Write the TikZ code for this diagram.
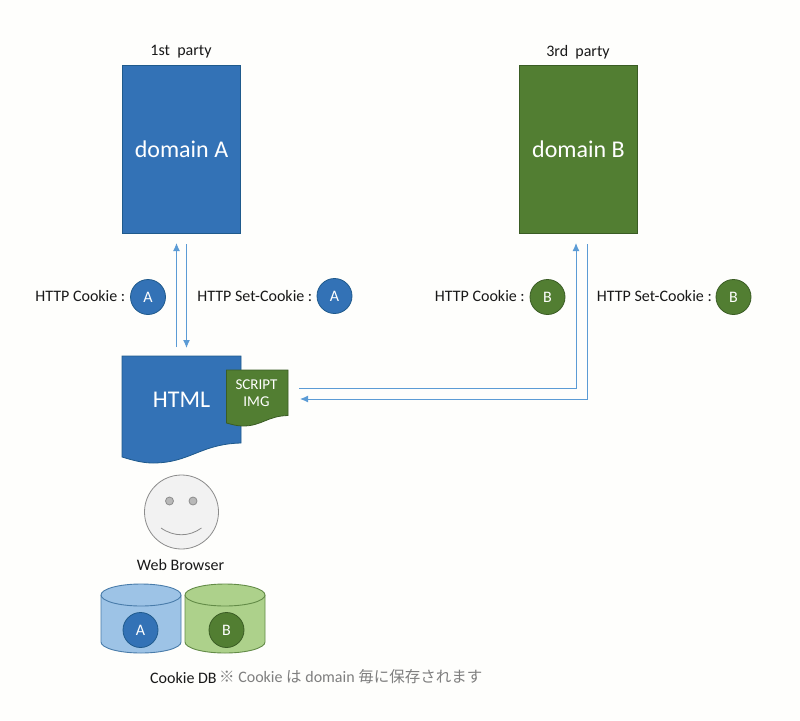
\documentclass[tikz,border=0pt]{standalone}
\usepackage{fontspec}
\setmainfont{Carlito}
\newfontfamily\cjk{Noto Sans CJK JP}
\usetikzlibrary{arrows.meta}
\definecolor{blueF}{HTML}{3372B6}
\definecolor{blueD}{HTML}{1F5A8C}
\definecolor{greenF}{HTML}{527E32}
\definecolor{greenD}{HTML}{3A5C24}
\definecolor{arrowC}{HTML}{5B9BD5}
\definecolor{lblue}{HTML}{9DC3E6}
\definecolor{lgreen}{HTML}{ADD18B}
\definecolor{note}{HTML}{7F7F7F}
\definecolor{paper}{HTML}{FEFEFC}
\tikzset{
  x=1pt,y=-1pt,
  box/.style={draw,line width=0.8pt,minimum width=118pt,minimum height=168pt,inner sep=0pt,text=white,font=\fontsize{24}{26}\selectfont},
  bluebox/.style={box,fill=blueF,draw=blueD},
  greenbox/.style={box,fill=greenF,draw=greenD},
  badge/.style={circle,draw,line width=0.8pt,minimum size=35pt,inner sep=0pt,text=white,font=\fontsize{16}{18}\selectfont},
  badgeA/.style={badge,fill=blueF,draw=blueD},
  badgeB/.style={badge,fill=greenF,draw=greenD},
  lbl/.style={inner sep=0pt,text=black!90,font=\fontsize{16}{18}\selectfont},
  conn/.style={draw=arrowC,line width=1pt,-{Latex[length=8pt,width=7pt]}},
  facepart/.style={draw=black!45,line width=0.8pt},
}
\begin{document}
\begin{tikzpicture}
\useasboundingbox (0,0) rectangle (800,720);
\fill[fill=paper] (0,0) rectangle (800,720);

\node[bluebox] (domA) at (181.5,149.5) {domain A};
\node[greenbox] (domB) at (578.5,149.5) {domain B};
\node[lbl] (p1) at (181,52) {1st\ \ party};
\node[lbl] (p3) at (578,52) {3rd\ \ party};

% HTML document
\draw[fill=blueF,draw=blueD,line width=0.8pt] (122,356) -- (241,356) -- (241,443)
  .. controls (200,444) and (190,463) .. (153,463)
  .. controls (142,463) and (132,460) .. (122,457) -- cycle;
\node[inner sep=0pt,text=white,font=\fontsize{24}{26}\selectfont] (html) at (181.5,400) {HTML};

% script document
\draw[fill=greenF,draw=greenD,line width=0.8pt] (226.5,370) -- (288,370) -- (288,415.5)
  .. controls (267,416) and (262,426) .. (243,426)
  .. controls (237,426) and (232,424.5) .. (226.5,423) -- cycle;
\node[inner sep=0pt,align=center,text=white,font=\fontsize{15}{17}\selectfont] (script) at (256.5,393) {SCRIPT\\IMG};

% connector end points
\coordinate (upS) at (176.5,347);
\coordinate (upE) at (176.5,243);
\coordinate (dnS) at (186.5,244);
\coordinate (dnE) at (186.5,348);
\coordinate (outS) at (299,388);
\coordinate (outC) at (576,388);
\coordinate (outE) at (576,243);
\coordinate (inS) at (587,244);
\coordinate (inC) at (587,399);
\coordinate (inE) at (300,399);
\draw[conn] (upS) -- (upE);
\draw[conn] (dnS) -- (dnE);
\draw[conn] (outS) -- (outC) -- (outE);
\draw[conn] (inS) -- (inC) -- (inE);

% labels
\node[lbl,anchor=east] (l1) at (125.5,296) {HTTP Cookie :};
\node[badgeA] (b1) at (148,297) {A};
\node[lbl,anchor=east] (l2) at (312.5,296) {HTTP Set-Cookie :};
\node[badgeA] (b2) at (334.5,296) {A};
\node[lbl,anchor=east] (l3) at (525,296) {HTTP Cookie :};
\node[badgeB] (b3) at (547.5,297) {B};
\node[lbl,anchor=east] (l4) at (712,296) {HTTP Set-Cookie :};
\node[badgeB] (b4) at (733.5,297) {B};

% face
\node[circle,facepart,fill=black!5,minimum size=74pt,inner sep=0pt] (face) at (181.5,512) {};
\node[circle,facepart,fill=black!28,minimum size=8pt,inner sep=0pt] (eyeL) at (169.5,501) {};
\node[circle,facepart,fill=black!28,minimum size=8pt,inner sep=0pt] (eyeR) at (193,501) {};
\draw[facepart] (161,528) .. controls (174,537) and (189,537) .. (201.5,528);
\node[lbl] (wb) at (180.5,565) {Web Browser};

% cylinders
\draw[fill=lblue,draw=arrowC!80!black,line width=0.9pt] (101,595) -- (101,642) arc[start angle=180,end angle=360,x radius=40,y radius=-11] -- (181,595);
\draw[fill=lblue,draw=arrowC!80!black,line width=0.9pt] (141,595) ellipse[x radius=40,y radius=11];
\draw[fill=lgreen,draw=greenF!90!white,line width=0.9pt] (185,595) -- (185,642) arc[start angle=180,end angle=360,x radius=40,y radius=-11] -- (265,595);
\draw[fill=lgreen,draw=greenF!90!white,line width=0.9pt] (225,595) ellipse[x radius=40,y radius=11];
\node[badgeA] (ca) at (140.5,630) {A};
\node[badgeB] (cb) at (226.5,630) {B};

\node[lbl,anchor=west] (db) at (150,678) {Cookie DB};
\node[anchor=west,inner sep=0pt,text=note,font=\fontsize{16}{18}\selectfont] (nt) at (219,677) {{\cjk\fontsize{15.5}{18}\selectfont ※} Cookie {\cjk\fontsize{15.5}{18}\selectfont は} domain {\cjk\fontsize{15.5}{18}\selectfont 毎に保存されます}};
\end{tikzpicture}
\end{document}
